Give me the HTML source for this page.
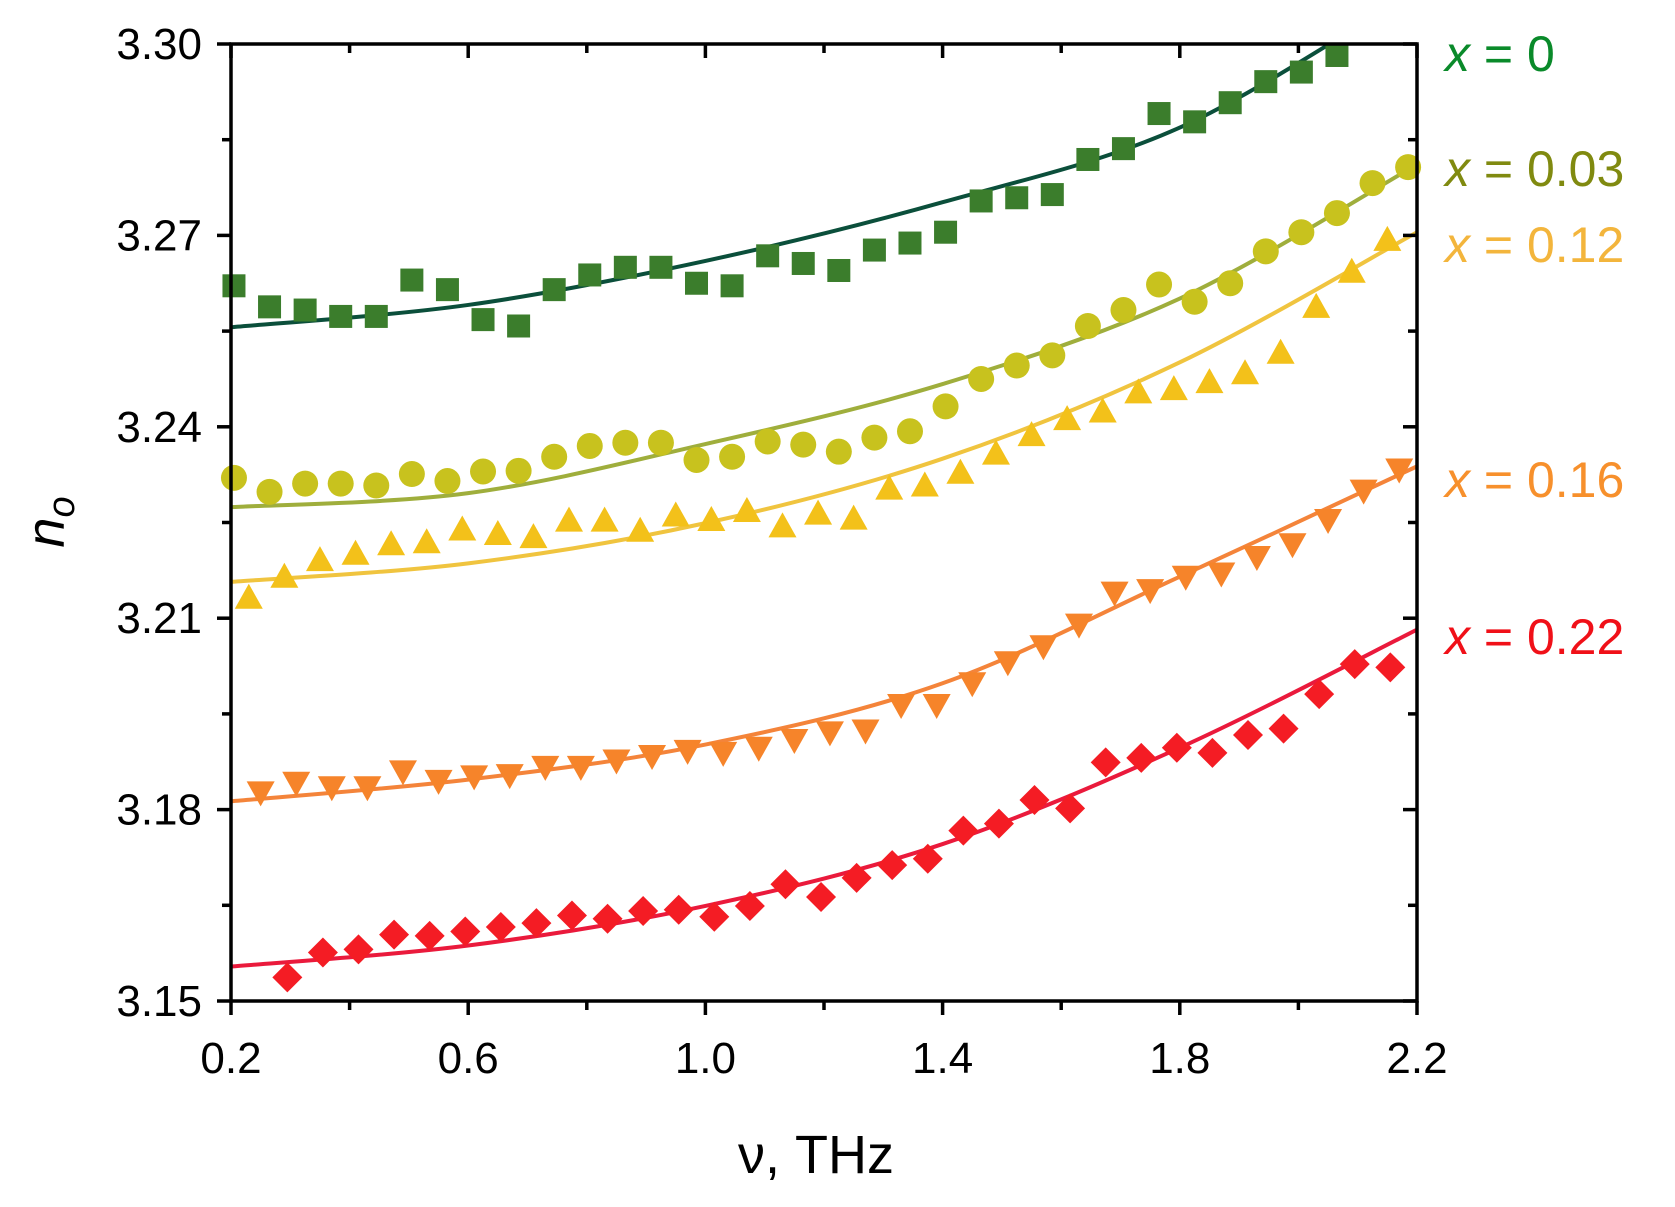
<!DOCTYPE html>
<html><head><meta charset="utf-8"><style>
body{margin:0;background:#fff;}
svg{display:block;font-family:"Liberation Sans",sans-serif;}
</style></head><body>
<svg id="chart" width="1675" height="1207" viewBox="0 0 1675 1207">
<defs><clipPath id="clip"><rect x="231" y="44" width="1186" height="957"/></clipPath></defs>
<g id="fits" clip-path="url(#clip)"></g>
<g id="marks"></g>
<g id="axes"></g>
<text x="816" y="1173" font-size="54" text-anchor="middle">ν, THz</text>
<text transform="translate(64,522) rotate(-90)" font-size="54" font-style="italic" text-anchor="middle">n<tspan font-size="38" dy="10">o</tspan></text>
<g id="legend" font-size="50"></g>
</svg>
<script>
const X0=231,X1=1417,Y0=1001,Y1=44;
const xMin=0.2,xMax=2.2,yMin=3.15,yMax=3.30;
const sx=v=>X0+(v-xMin)/(xMax-xMin)*(X1-X0);
const sy=v=>Y0-(v-yMin)/(yMax-yMin)*(Y0-Y1);
const xTicks=[0.2,0.6,1.0,1.4,1.8,2.2];
const xTickLabels=["0.2","0.6","1.0","1.4","1.8","2.2"];
const yTicks=[3.15,3.18,3.21,3.24,3.27,3.30];
const yTickLabels=["3.15","3.18","3.21","3.24","3.27","3.30"];
const seriesNames=["x = 0","x = 0.03","x = 0.12","x = 0.16","x = 0.22"];
const seriesStart=[0.205,0.205,0.23,0.25,0.295];
const seriesStep=[0.06,0.06,0.06,0.06,0.06];
const n0=[3.2621,3.2588,3.2583,3.2573,3.2573,3.2630,3.2615,3.2568,3.2558,3.2615,3.2638,3.2650,3.2650,3.2625,3.2621,3.2668,3.2656,3.2645,3.2677,3.2688,3.2705,3.2754,3.2759,3.2764,3.2819,3.2836,3.2891,3.2878,3.2908,3.2941,3.2956,3.2982];
const n003=[3.2320,3.2298,3.2311,3.2311,3.2308,3.2326,3.2315,3.2330,3.2331,3.2353,3.2370,3.2375,3.2375,3.2348,3.2353,3.2377,3.2372,3.2361,3.2383,3.2393,3.2432,3.2475,3.2496,3.2512,3.2558,3.2583,3.2623,3.2596,3.2625,3.2675,3.2705,3.2735,3.2782,3.2807];
const n012=[3.2132,3.2165,3.2191,3.2201,3.2216,3.2219,3.2239,3.2232,3.2227,3.2253,3.2253,3.2237,3.2261,3.2254,3.2268,3.2244,3.2264,3.2256,3.2303,3.2308,3.2328,3.2358,3.2387,3.2412,3.2424,3.2454,3.2459,3.2470,3.2484,3.2516,3.2588,3.2643,3.2693];
const n016=[3.1827,3.1842,3.1835,3.1835,3.1860,3.1845,3.1852,3.1854,3.1867,3.1867,3.1877,3.1884,3.1892,3.1889,3.1897,3.1909,3.1921,3.1924,3.1964,3.1964,3.1998,3.2031,3.2056,3.2090,3.2140,3.2144,3.2165,3.2170,3.2196,3.2216,3.2254,3.2300,3.2333];
const n022=[3.1537,3.1576,3.1581,3.1604,3.1602,3.1609,3.1616,3.1622,3.1634,3.1629,3.1641,3.1643,3.1632,3.1649,3.1683,3.1663,3.1693,3.1713,3.1723,3.1767,3.1778,3.1815,3.1802,3.1874,3.1881,3.1897,3.1889,3.1917,3.1927,3.1981,3.2028,3.2023];
const fitX=[0.2,0.6,1.0,1.4,1.8,2.2];
const fit0=[3.2556,3.2591,3.2660,3.2752,3.2869,3.3085];
const fit003=[3.2274,3.2296,3.2373,3.2467,3.2601,3.2811];
const fit012=[3.2157,3.2186,3.2249,3.2350,3.2501,3.2705];
const fit016=[3.1813,3.1847,3.1902,3.1998,3.2165,3.2338];
const fit022=[3.1554,3.1587,3.1649,3.1746,3.1897,3.2082];
const NS="http://www.w3.org/2000/svg";
function mk(tag,attrs,parent){const e=document.createElementNS(NS,tag);for(const k in attrs)e.setAttribute(k,attrs[k]);parent.appendChild(e);return e;}
const data=[n0,n003,n012,n016,n022];
const fits=[fit0,fit003,fit012,fit016,fit022];
const markColor=["#3b7d2c","#c8c21e","#f3c11a","#f6842a","#f41c24"];
const fitColor=["#0b4f3b","#9fae3c","#f0c43f","#f4843a","#ea1a3c"];
const labColor=["#0a8a2a","#808a10","#f3b53c","#f7902c","#f01018"];
const labY=[53,168,244,479,636];
const shapes=["square","circle","up","down","diamond"];
const gF=document.getElementById('fits'),gM=document.getElementById('marks'),gA=document.getElementById('axes'),gL=document.getElementById('legend');
fits.forEach((f,i)=>{
  const p=fitX.map((x,j)=>[sx(x),sy(f[j])]);
  let d=`M${p[0][0]},${p[0][1]}`;
  for(let j=0;j<p.length-1;j++){
    const a=p[Math.max(j-1,0)],b=p[j],c=p[j+1],e=p[Math.min(j+2,p.length-1)];
    d+=` C${b[0]+(c[0]-a[0])/6},${b[1]+(c[1]-a[1])/6} ${c[0]-(e[0]-b[0])/6},${c[1]-(e[1]-b[1])/6} ${c[0]},${c[1]}`;
  }
  const path=mk('path',{d:d,fill:'none',stroke:fitColor[i],'stroke-width':4},gF);
  
  
});
data.forEach((arr,i)=>{
  arr.forEach((v,j)=>{
    const cx=sx(seriesStart[i]+j*seriesStep[i]),cy=sy(v);let e;
    const c=markColor[i];
    if(shapes[i]==='square')e=mk('rect',{x:cx-11.5,y:cy-11.5,width:23,height:23,fill:c},gM);
    else if(shapes[i]==='circle')e=mk('circle',{cx:cx,cy:cy,r:13,fill:c},gM);
    else if(shapes[i]==='up')e=mk('polygon',{points:`${cx},${cy-14} ${cx+14},${cy+11} ${cx-14},${cy+11}`,fill:c},gM);
    else if(shapes[i]==='down')e=mk('polygon',{points:`${cx},${cy+14} ${cx+14},${cy-11} ${cx-14},${cy-11}`,fill:c},gM);
    else e=mk('polygon',{points:`${cx},${cy-15} ${cx+15},${cy} ${cx},${cy+15} ${cx-15},${cy}`,fill:c},gM);
    
    
  });
});
const fr=mk('rect',{x:X0,y:Y1,width:X1-X0,height:Y0-Y1,fill:'none',stroke:'#000','stroke-width':3.5},gA);


for(let v=0.2;v<=2.2001;v+=0.2){
  const x=sx(v);const major=Math.abs(((v-0.2)/0.4)-Math.round((v-0.2)/0.4))<1e-6;
  const L=major?14:9;
  mk('line',{x1:x,y1:Y0,x2:x,y2:Y0+L,stroke:'#000','stroke-width':3.5},gA);
  mk('line',{x1:x,y1:Y1,x2:x,y2:Y1+L,stroke:'#000','stroke-width':3.5},gA);
}
for(let k=0;k<=10;k++){
  const y=sy(3.15+k*0.015);const L=k%2===0?14:9;
  mk('line',{x1:X0,y1:y,x2:X0-L,y2:y,stroke:'#000','stroke-width':3.5},gA);
  mk('line',{x1:X1,y1:y,x2:X1-L,y2:y,stroke:'#000','stroke-width':3.5},gA);
}
xTicks.forEach((v,i)=>{
  const t=mk('text',{x:sx(v),y:1073,'font-size':44,'text-anchor':'middle'},gA);t.textContent=xTickLabels[i];
  
  
});
yTicks.forEach((v,i)=>{
  const t=mk('text',{x:202,y:sy(v)+15,'font-size':44,'text-anchor':'end'},gA);t.textContent=yTickLabels[i];
  
  
});
seriesNames.forEach((s,i)=>{
  const t=mk('text',{x:1445,y:labY[i]+18,fill:labColor[i]},gL);
  const it=document.createElementNS(NS,'tspan');it.setAttribute('font-style','italic');it.textContent='x';t.appendChild(it);
  t.appendChild(document.createTextNode(s.slice(1)));
  
  
});
</script>
</body></html>
